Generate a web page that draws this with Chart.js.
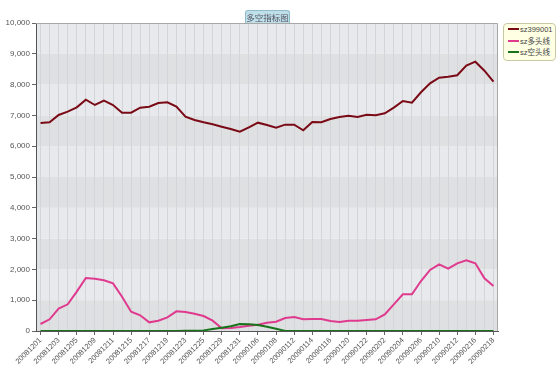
<!DOCTYPE html>
<html>
<head>
<meta charset="utf-8">
<script src="https://cdn.jsdelivr.net/npm/chart.js@4.4.1/dist/chart.umd.min.js"></script>
<style>
  html, body { margin: 0; padding: 0; background: #fff; }
  #wrap { position: relative; width: 560px; height: 382px; }
  canvas { position: absolute; left: 0; top: 0; }
  #title { position: absolute; left: 245px; top: 10px; width: 43px; height: 12px; background: #bfe0e8; border: 1px solid #8fbccb; border-bottom: none; border-radius: 3px 3px 0 0; font: 8.5px "Noto Sans CJK SC", sans-serif; color: #556; text-align: center; line-height: 12px; }
  #legend { position: absolute; left: 503px; top: 23px; width: 51px; height: 36px; background: #ffffe4; border: 1px solid #c9c9a6; border-radius: 4px; font: 7.5px "Liberation Sans", "Noto Sans CJK SC", sans-serif; color: #444; }
  .li { position: absolute; left: 4px; height: 10px; line-height: 10px; white-space: nowrap; }
  .sw { display: inline-block; width: 11px; height: 2px; vertical-align: middle; margin-right: 1px; position: relative; top: -1px; }
</style>
</head>
<body>
<div id="wrap">
  <canvas id="c" width="560" height="382"></canvas>
  <div id="title"></div>
  <div id="legend"></div>
</div>
<script>
const chartTitle = "多空指标图";
const dates = ["20081201","20081202","20081203","20081204","20081205","20081208","20081209","20081210","20081211","20081212",
  "20081215","20081216","20081217","20081218","20081219","20081222","20081223","20081224","20081225","20081226",
  "20081229","20081230","20081231","20090105","20090106","20090107","20090108","20090109","20090112","20090113",
  "20090114","20090115","20090116","20090119","20090120","20090121","20090122","20090123","20090202","20090203",
  "20090204","20090205","20090206","20090209","20090210","20090211","20090212","20090213","20090216","20090217","20090218"];
const seriesNames = ["sz399001", "sz多头线", "sz空头线"];
const seriesColors = ["#7a0b16", "#df3a8e", "#17741a"];
const sz399001 = [6750,6780,7013,7122,7263,7510,7338,7478,7338,7089,
  7089,7251,7284,7403,7425,7284,6959,6850,6776,6711,
  6634,6559,6472,6614,6764,6689,6602,6699,6699,6516,
  6786,6776,6884,6949,6985,6949,7024,7002,7067,7251,
  7468,7414,7751,8043,8225,8258,8302,8615,8744,8452,8095];
const szLong = [227,379,725,866,1277,1721,1699,1645,1548,1114,
  628,509,281,335,444,639,617,560,487,335,
  87,97,130,173,206,270,303,422,455,379,
  390,390,325,292,335,335,357,379,541,866,
  1191,1191,1623,1981,2165,2024,2197,2294,2197,1711,1461];
const szShort = [0,0,0,0,0,0,0,0,0,0,
  0,0,0,0,0,0,5,10,20,65,
  108,152,227,217,195,141,76,0,0,0,
  0,0,0,0,0,0,0,0,0,0,
  0,0,0,0,0,0,0,0,0,0,0];
const yTicks = [0,1000,2000,3000,4000,5000,6000,7000,8000,9000,10000];

document.getElementById('title').textContent = chartTitle;
const lg = document.getElementById('legend');
seriesNames.forEach((n, i) => {
  const d = document.createElement('div');
  d.className = 'li';
  d.style.top = (1 + i * 11.5) + 'px';
  d.innerHTML = '<span class="sw" style="background:' + seriesColors[i] + '"></span>';
  d.appendChild(document.createTextNode(n));
  lg.appendChild(d);
});

const bandPlugin = {
  id: 'bands',
  beforeDraw(chart) {
    const { ctx, chartArea: a, scales: { y } } = chart;
    ctx.save();
    for (let i = 0; i < yTicks.length - 1; i++) {
      const y0 = y.getPixelForValue(yTicks[i]);
      const y1 = y.getPixelForValue(yTicks[i + 1]);
      ctx.fillStyle = (i % 2 === 0) ? '#dfe0e2' : '#e7e9ec';
      ctx.fillRect(a.left, y1, a.right - a.left, y0 - y1);
    }
    ctx.restore();
  },
  afterDatasetsDraw(chart) {
    const { ctx, chartArea: a } = chart;
    ctx.save();
    ctx.strokeStyle = '#a8a8a8';
    ctx.lineWidth = 1;
    ctx.beginPath();
    ctx.moveTo(a.left, a.top + 0.5);
    ctx.lineTo(a.right - 0.5, a.top + 0.5);
    ctx.lineTo(a.right - 0.5, a.bottom);
    ctx.stroke();
    ctx.restore();
  }
};

const series = [sz399001, szLong, szShort];
new Chart(document.getElementById('c'), {
  type: 'line',
  data: {
    labels: dates,
    datasets: series.map((d, i) => ({
      label: seriesNames[i],
      data: d,
      borderColor: seriesColors[i],
      backgroundColor: seriesColors[i],
      borderWidth: 2,
      pointRadius: 0,
      tension: 0,
      fill: false
    })).reverse()
  },
  options: {
    responsive: false,
    animation: false,
    layout: { padding: { left: 0, top: 23, right: 62, bottom: 0 } },
    plugins: { legend: { display: false }, title: { display: false }, tooltip: { enabled: false } },
    scales: {
      x: {
        type: 'category',
        offset: true,
        afterFit(s) { s.height = 51; },
        grid: {
          offset: false,
          color: '#d3d5d8',
          lineWidth: 1,
          tickLength: 4,
          tickColor: (c) => (c.index % 2 === 0 ? '#666' : 'rgba(0,0,0,0)')
        },
        border: { display: true, color: '#555', width: 1 },
        ticks: {
          autoSkip: false,
          maxRotation: 45,
          minRotation: 45,
          padding: 1,
          color: '#555',
          font: { family: '"Liberation Sans", Arial, sans-serif', size: 7.5 },
          callback: function (v, i) { return i % 2 === 0 ? this.getLabelForValue(v) : ''; }
        }
      },
      y: {
        min: 0,
        max: 10000,
        afterFit(s) { s.width = 36; },
        afterBuildTicks(s) { s.ticks = yTicks.map(v => ({ value: v })); },
        grid: { drawOnChartArea: false, tickLength: 4, tickColor: '#666' },
        border: { display: true, color: '#555', width: 1 },
        ticks: {
          padding: 2,
          color: '#555',
          font: { family: '"Liberation Sans", Arial, sans-serif', size: 8 },
          callback: (v) => Number(v).toLocaleString('en-US')
        }
      }
    }
  },
  plugins: [bandPlugin]
});
</script>
</body>
</html>
